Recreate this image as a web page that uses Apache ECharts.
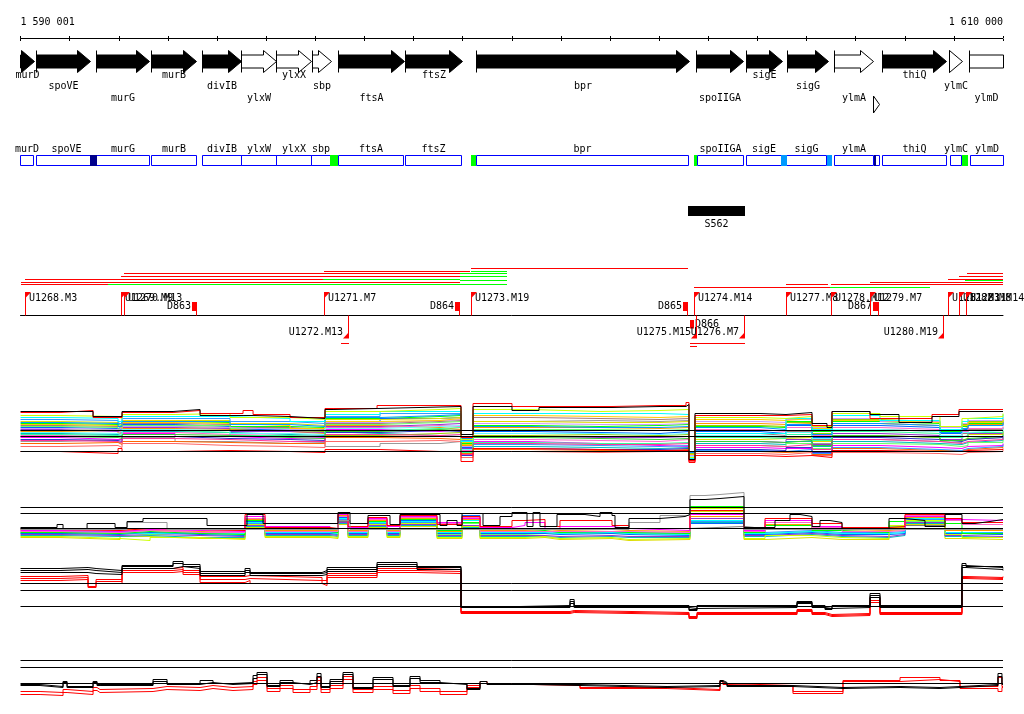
<!DOCTYPE html>
<html><head><meta charset="utf-8">
<script src="https://cdn.jsdelivr.net/npm/echarts@6/dist/echarts.min.js"></script>
<style>html,body{margin:0;padding:0;background:#fff}#c{width:1024px;height:714px}</style>
</head><body><div id="c"></div>
<script>
// ---------------- DATA ----------------
const viewStart = 1590001, viewEnd = 1610000;
const axisMin = 1590000, axisMax = 1610000, tickStep = 1000;

// genes: name, start, end, filled(1)/open(0), row
const genes = [
  ['murD', 1589000, 1590276, 1, 0],
  ['spoVE', 1590317, 1591430, 1, 0],
  ['murG', 1591544, 1592631, 1, 0],
  ['murB', 1592657, 1593588, 1, 0],
  ['divIB', 1593702, 1594495, 1, 0],
  ['ylxW', 1594495, 1595202, 0, 0],
  ['ylxX', 1595208, 1595928, 0, 0],
  ['sbp', 1595941, 1596321, 0, 0],
  ['ftsA', 1596464, 1597807, 1, 0],
  ['ftsZ', 1597834, 1598988, 1, 0],
  ['bpr', 1599279, 1603614, 1, 0],
  ['spoIIGA', 1603765, 1604714, 1, 0],
  ['sigE', 1604769, 1605507, 1, 0],
  ['sigG', 1605617, 1606438, 1, 0],
  ['ylmA', 1606560, 1607374, 0, 0],
  ['', 1607374, 1607496, 0, 1],
  ['thiQ', 1607557, 1608853, 1, 0],
  ['ylmC', 1608921, 1609179, 0, 0],
  ['ylmD', 1609328, 1610400, 0, 0]
];

// second track boxes: name, start, end
const geneBoxes = [
  ['murD', 1590001, 1590270], ['spoVE', 1590317, 1591552], ['murG', 1591552, 1592631],
  ['murB', 1592657, 1593588], ['divIB', 1593702, 1594495], ['ylxW', 1594495, 1595202],
  ['ylxX', 1595208, 1595928], ['sbp', 1595928, 1596301], ['ftsA', 1596470, 1597801],
  ['ftsZ', 1597827, 1598981], ['bpr', 1599279, 1603594], ['spoIIGA', 1603777, 1604721],
  ['sigE', 1604775, 1605487], ['sigG', 1605603, 1606417], ['ylmA', 1606560, 1607368],
  ['', 1607389, 1607490], ['thiQ', 1607557, 1608860], ['ylmC', 1608927, 1609165],
  ['ylmD', 1609330, 1610000]
];
// filled regions: start, end, kind
const boxFills = [
  [1591422, 1591552, 'dark'], [1596301, 1596470, 'green'], [1599171, 1599266, 'green'],
  [1603710, 1603777, 'green'], [1605487, 1605603, 'light'], [1606417, 1606519, 'light'],
  [1607368, 1607403, 'dark'], [1609165, 1609287, 'green']
];

const features = [['S562', 1603588, 1604748]];

// segments: start, end, lane, kind
const segments = [
  [1599171, 1603588, 0, 'red'],
  [1596179, 1599151, 1, 'red'], [1599171, 1599904, 1, 'green'],
  [1592108, 1598947, 2, 'red'], [1598947, 1599904, 2, 'green'], [1609267, 1610000, 2, 'red'],
  [1592053, 1598947, 3, 'red'], [1598947, 1599904, 3, 'green'], [1609098, 1610000, 3, 'red'],
  [1590093, 1596165, 4, 'red'], [1596165, 1598947, 4, 'green'], [1608874, 1610000, 4, 'red'],
  [1598947, 1599904, 4.5, 'green'], [1609226, 1610000, 4.5, 'green'],
  [1590001, 1598947, 5, 'red'], [1607287, 1610000, 5, 'red'],
  [1590001, 1591776, 6, 'red'], [1591776, 1599904, 6, 'green'], [1605583, 1606438, 6, 'red'], [1606499, 1610000, 6, 'red'],
  [1603710, 1606485, 7, 'red'], [1606485, 1608520, 7, 'green']
];

const upMarkers = [
  [1590107, 'U1268.M3'], [1592053, 'U1269.M9'], [1592108, 'U1270.M13'], [1596179, 'U1271.M7'],
  [1599171, 'U1273.M19'], [1603710, 'U1274.M14'], [1605589, 'U1277.M8'], [1606499, 'U1278.M12'],
  [1607307, 'U1279.M7'], [1608895, 'U1281.M11'], [1609118, 'U1282.M8'], [1609261, 'U1283.M14']
];
const downMarkers = [
  [1596673, 'U1272.M13', 1596525, 0], [1603751, 'U1275.M15', 1603635, 1],
  [1604734, 'U1276.M7', 1603635, 0], [1608793, 'U1280.M19', null, 0]
];
const deletions = [
  [1593498, 1593588, 'D863', 1], [1598851, 1598953, 'D864', 1], [1603486, 1603582, 'D865', 1],
  [1603635, 1603710, 'D866', -1], [1607354, 1607470, 'D867', 1]
];

// ---- panel A ----
const knotsA = [1590001,1590805,1591986,1592067,1593146,1594265,1595487,1596199,1597319,1598540,1598967,1599212,1600372,1601797,1603018,1603608,1603730,1605054,1605583,1606112,1606519,1607496,1608717,1609165,1609287,1610000];
const refsA = [0, 15.3, 21.3];
const knotsATop = [1590001,1590805,1591477,1592067,1593105,1593655,1594530,1594734,1595487,1596199,1596362,1597258,1598967,1599212,1600005,1600555,1602041,1603018,1603547,1603608,1603730,1605054,1605583,1606112,1606417,1606519,1607293,1607883,1608555,1609104,1610000];
const aBlack1 = [40,40,35,40,42,36,36,35,33,42,43,45,17,45,41,44,45,45,47,-8,38,37,39,28,24,40,37,29,35,40,40];
const aRed1 = [39,41,34,39,41,38,41,37,34,43,43,46,14,48,45,45,46,46,49,-9,36,36,37,26,26,40,33,33,37,42,42];
const aYgreen = [36,35,33,37,38,34,32,40,42,43,12,42,40,41,42,-6,34,33,35,25,38,35,25,33,35,38];
const aCyan = [34,33,30,35,35,33,30,37,40,40,10,38,38,38,37,-7,18,18,33,22,36,31,22,30,33,37];
const aGray = [10,12,9,14,10,8,9,5,8,10,6,30,31,30,31,-5,15,14,14,8,12,10,9,12,14,12];
const aMagenta = [14,12,12,18,15,13,14,22,20,22,5,10,8,6,5,-10,4,3,3,18,6,4,3,5,6,8];
const aGreen = [28,27,26,30,29,25,24,33,35,36,8,26,25,26,27,-4,25,24,30,20,30,28,20,25,28,31];
const aBlue = [24,23,22,27,25,22,20,30,33,34,4,20,19,18,20,-3,20,18,26,14,26,24,18,22,26,29];
const aOrange = [20,21,18,23,22,20,18,26,24,22,6,24,24,23,24,-2,28,27,28,22,28,26,22,24,27,30];
const aBrown = [26,25,23,28,27,24,22,28,30,31,10,34,33,32,33,-2,18,16,20,12,22,20,15,18,22,24];
const aPurple = [22,20,19,24,23,20,19,25,27,28,3,15,14,14,15,-8,10,9,12,7,18,16,12,15,18,20];
const aYellow = [30,29,27,31,31,28,26,32,33,34,7,30,29,29,30,-6,12,13,14,10,16,14,11,13,17,20];
const aRed2 = [0,-2,3,0,1,0,-1,2,0,0,-10,3,2,1,1,-11,-4,-5,-4,-6,1,0,0,1,2,3];
const aTeal = [18,17,16,20,19,17,16,18,16,15,2,5,4,3,4,-6,8,7,10,5,10,8,7,9,11,14];
const aPink = [16,15,14,19,17,16,15,24,26,25,1,12,11,10,12,-7,22,20,24,16,24,22,16,20,23,25];
const aLime = [25,24,21,26,26,23,21,27,29,30,9,22,22,21,22,-3,6,5,8,3,8,7,5,6,9,12];
const aDorange = [8,9,7,10,9,8,8,14,13,12,-2,2,1,1,2,-9,0,-1,0,-3,3,1,1,2,4,5];
const aSky = [32,31,28,33,33,30,28,35,38,38,11,7,6,5,6,-4,1,0,2,-2,4,2,1,3,5,7];
const aOlive = [21,22,20,25,24,21,20,16,18,19,0,16,17,16,17,-2,26,25,29,18,32,30,24,27,30,33];
const aNavy = [12,11,10,15,13,12,11,19,21,20,-4,3,2,2,3,-8,2,1,4,-1,14,12,10,12,14,16];
const aSalmon = [5,6,4,8,6,5,4,10,11,10,-6,0,-1,0,0,-10,-2,-3,-1,-4,-1,-2,-3,-1,0,2];
const aMint = [17,16,15,21,19,16,15,21,23,24,-1,9,8,8,9,-5,14,13,17,11,20,18,14,16,19,21];
const aLav = [23,22,20,25,24,22,21,29,31,32,5,28,27,27,28,-4,30,29,32,24,33,30,24,28,31,34];
const aGold = [27,26,24,29,28,26,23,30,31,33,9,36,35,34,35,-3,32,31,33,23,31,29,21,26,29,32];
const aAqua = [19,18,17,22,21,18,17,23,25,26,2,18,18,17,18,-5,16,15,19,13,22,20,16,19,21,23];
const aRose = [11,10,9,13,12,10,10,17,16,17,-3,8,7,7,8,-7,6,5,7,2,12,10,8,10,12,14];
const aGreen2 = [15,14,13,17,16,14,13,20,22,21,0,14,13,12,13,-6,10,9,11,6,16,14,11,13,15,18];
const aBlue2 = [29,28,25,30,30,27,25,34,36,37,13,25,24,24,25,-1,24,22,27,17,28,26,19,23,26,29];

// ---- panel B ----
const knotsB = [1590001,1590805,1592026,1592637,1593655,1594571,1594978,1596301,1596464,1596667,1597074,1597461,1597726,1598479,1598988,1599354,1600005,1600270,1600677,1600982,1602041,1602387,1603628,1604728,1605156,1606112,1606723,1607680,1608005,1608819,1609165,1610000];
const refsB = [0, 15.4, 21.4];
const bMagenta = [-2,-3,-1,-2,-3,12,2,-1,14,1,10,2,12,6,10,1,3,6,-1,2,0,-2,14,-2,8,2,-1,0,12,9,8,8];
const bRed = [-1,-2,0,-1,-2,14,1,0,15,2,11,3,13,4,12,2,8,9,2,8,3,0,18,0,10,5,1,2,14,10,6,6];
const bGreen = [-4,-5,-3,-5,-6,8,-3,-4,12,-3,7,-2,9,-2,6,-3,-3,-2,-4,-3,-4,-5,22,-4,3,-2,-4,7,11,5,-5,-5];
const bYgreen = [-8,-10,-12,-9,-11,4,-8,-9,8,-8,4,-8,5,-9,2,-9,-9,-8,-10,-9,-11,-10,20,-10,-7,-9,-10,3,8,-6,-9,-9];
const bCyan = [-3,-4,-5,-4,-5,6,-4,-5,10,-4,6,-4,7,-4,8,-4,-4,-4,-5,-4,-5,-6,8,-5,-3,-5,-5,-4,10,-4,-5,-5];
const bBlue = [-5,-6,-4,-6,-7,7,-5,-6,11,-5,8,-5,8,-5,13,-5,-5,-5,-6,-5,-6,-7,5,-6,-4,-6,-6,-5,12,-5,-6,-6];
const bOrange = [-2,-1,-2,-3,-2,9,-2,-2,13,-2,8,-2,10,-3,9,-2,-2,-1,-2,-1,-2,-3,12,-2,4,-1,-2,-1,11,-2,-2,-2];
const bPurple = [-6,-7,-6,-7,-8,3,-6,-7,6,-6,3,-6,4,-7,3,-7,-7,-7,-8,-7,-8,-8,10,-7,-5,-7,-8,-6,6,-7,-8,-8];
const bPink = [-3,-4,-2,-4,-4,10,-3,-3,12,-3,9,-3,11,5,11,-3,-3,-3,-3,-3,-3,-4,15,-3,6,1,-3,-2,13,8,4,4];
const bTeal = [-7,-8,-7,-9,-9,2,-7,-8,5,-7,2,-7,3,-8,1,-8,-8,-8,-9,-8,-9,-9,6,-8,-6,-8,-9,-7,5,-8,-9,-9];
const bYellow = [-9,-11,-8,-10,-10,1,-9,-10,4,-9,1,-9,2,-10,0,-10,-10,-9,-11,-10,-12,-11,17,-11,-9,-11,-11,1,4,-10,-11,-11];
const bDgray = [0,0,0,0,0,3,0,0,7,0,5,0,4,0,2,0,0,0,0,0,0,0,2,0,0,0,0,0,3,0,0,0];
const bSky = [-4,-3,-4,-5,-4,5,-4,-4,9,-4,5,-4,6,-5,10,-4,-4,-3,-4,-4,-4,-5,7,-4,-2,-4,-4,-3,9,-4,-4,-4];
const bLime = [-5,-4,-6,-4,-5,4,-5,-5,8,-5,4,-5,6,-6,5,-6,-6,-5,-5,-5,-5,-6,14,-5,-3,-5,-5,2,7,-5,-6,-6];
const knotsBGray = [1590001,1592169,1592983,1596464,1596708,1602387,1603018,1603628,1603934,1604239,1604728,1610000];
const bGray = [-1,6,-1,8,-1,6,13,33,34,36,-1,-1];
const knotsBBlack = [1590001,1590744,1590866,1591355,1591925,1592169,1592494,1593797,1594611,1594937,1596464,1596708,1597074,1597522,1597726,1598540,1598682,1598886,1598988,1599415,1599761,1600005,1600311,1600433,1600575,1600921,1601491,1601797,1602041,1602102,1602387,1603018,1603527,1603628,1603934,1604239,1604728,1605359,1605664,1605868,1606112,1606275,1606479,1606723,1607680,1608005,1608412,1608819,1609165,1609430,1609735,1610000];
const bBlack = [1,4,0,5,1,7,10,3,14,5,16,5,13,4,14,3,8,3,15,3,12,16,2,16,2,14,12,16,13,1,10,12,14,29,30,32,1,8,14,12,2,8,6,0,10,8,2,14,5,7,9,9];

// ---- panel C ----
const knotsC = [1590001,1590805,1591375,1591538,1592067,1593105,1593309,1593655,1594571,1594673,1596138,1596240,1597258,1598072,1598967,1600168,1601186,1601270,1603608,1603771,1605807,1606112,1606377,1606519,1607293,1607496,1609165,1609247,1610000];
const refsC = [0, 16, 23];
const cBlack1 = [38,39,38,36,41,45,42,35,38,34,36,39,44,40,0,1,7,1,-3,1,5,1,-2,1,13,1,43,40,40];
const cBlack2 = [36,37,36,34,40,43,40,33,36,33,34,37,42,39,-1,0,5,0,-4,0,4,0,-3,0,11,0,41,39,38];
const cBlack3 = [34,34,33,32,38,40,38,31,34,31,32,35,40,37,-1,-1,3,-1,-2,-1,3,-1,-2,-1,9,-1,39,37,36];
const cRed1 = [30,31,23,27,38,39,36,30,31,29,26,33,38,37,-5,-5,-4,-6,-10,-6,-3,-6,-8,-7,9,-6,30,29,30];
const cRed2 = [28,29,20,25,36,37,34,27,28,26,23,31,36,35,-6,-6,-5,-7,-11,-7,-4,-7,-9,-8,6,-7,29,28,28];
const cRed3 = [26,27,19,23,34,35,32,24,26,23,21,29,34,33,-7,-7,-6,-8,-12,-8,-5,-8,-10,-9,4,-8,28,27,27];

// ---- panel D ----
const knotsD = [1590001,1590398,1590866,1590948,1591477,1591558,1591619,1592698,1592983,1593655,1593919,1594326,1594734,1594815,1595019,1595283,1595548,1595894,1596036,1596118,1596301,1596565,1596769,1597176,1597583,1597929,1598133,1598540,1599089,1599354,1599497,1601389,1603161,1604239,1604300,1604382,1605725,1606743,1607904,1608717,1609125,1609898,1609979,1610000];
const refsD = [0, 16.3, 23.3];
const dBlack1 = [-1,-3,2,-3,2,-1,-1,4,0,3,0,1,8,11,-2,3,0,3,10,-3,4,11,-4,6,-2,7,3,0,-5,2,-1,-3,-2,3,1,-2,-4,-3,-4,-3,-1,10,0,0];
const dBlack2 = [-2,-4,1,-4,1,-2,-2,2,-1,1,-1,0,5,9,-3,1,-1,1,7,-4,2,9,-5,4,-3,5,1,-1,-6,0,-2,-4,-3,2,0,-3,-5,-4,-5,-4,-2,7,-1,-1];
const dRed1 = [-8,-9,-6,-8,-4,-6,-5,-3,-4,-2,-4,-3,2,6,-5,-2,-6,-3,6,-6,-2,7,-6,-3,-7,-2,-5,-8,-2,2,-1,-4,-6,3,0,-2,-8,3,6,3,-3,6,-3,-3];
const dRed2 = [-11,-12,-9,-11,-7,-9,-8,-6,-7,-5,-7,-6,-1,3,-8,-5,-9,-6,3,-9,-5,4,-9,-6,-10,-5,-8,-11,-4,0,-2,-5,-7,2,-1,-3,-10,2,4,2,-5,-8,-4,-4];

// ---------------- RENDER ----------------
const FF = '"DejaVu Sans Mono", monospace';
const FONT = '10px ' + FF;
const RED = '#ff0000', GREEN = '#00ff00';
const fillColors = {dark: '#00008c', green: '#00ff00', light: '#0099ff'};
const segColors = {red: RED, green: GREEN};
function snap(v) { return Math.round(v - 0.5) + 0.5; }
function fmt(n) { return String(n).replace(/\B(?=(\d{3})+(?!\d))/g, ' '); }
function txt(text, x, y, align) {
  return {type: 'text', style: {text: text, x: x, y: y, fill: '#000', font: FONT, align: align || 'center', verticalAlign: 'middle'}};
}

let lab = 0;
const geneRows = genes.map(g => g[0] ? (lab++ % 3) : -1);

function renderGene(params, api) {
  const g = genes[params.dataIndex];
  const s = g[1], e = g[2], filled = g[3], lane = g[4];
  const p0 = api.coord([Math.max(s, viewStart), lane]);
  const p1 = api.coord([Math.min(e, viewEnd), lane]);
  const x0 = snap(p0[0]), x1 = snap(p1[0]), yc = p0[1];
  const HH = lane ? 8.5 : 11, BH = 6.5, HL = 13;
  const style = {fill: filled ? '#000' : '#fff', stroke: '#000', lineWidth: 1};
  const ch = [];
  if (e > viewEnd) {
    ch.push({type: 'rect', shape: {x: x0, y: yc - BH, width: x1 - x0, height: 2 * BH}, style: style});
  } else {
    const hs = Math.max(x0, x1 - HL);
    const pts = (hs - x0 < 1) ? [[x0, yc - HH], [x1, yc], [x0, yc + HH]]
      : [[x0, yc - BH], [hs, yc - BH], [hs, yc - HH], [x1, yc], [hs, yc + HH], [hs, yc + BH], [x0, yc + BH]];
    ch.push({type: 'polygon', shape: {points: pts}, style: style});
  }
  if (s >= viewStart) ch.push({type: 'line', shape: {x1: x0, y1: yc - HH, x2: x0, y2: yc + HH}, style: {stroke: '#000', lineWidth: 1}});
  if (g[0]) ch.push(txt(g[0], (x0 + x1) / 2, yc + 14 + geneRows[params.dataIndex] * 11.3));
  return {type: 'group', children: ch};
}

function renderBox(params, api) {
  const b = geneBoxes[params.dataIndex];
  const p0 = api.coord([Math.max(b[1], viewStart), 0]), p1 = api.coord([Math.min(b[2], viewEnd), 0]);
  const x0 = snap(p0[0]), x1 = snap(p1[0]), yc = p0[1];
  const ch = [{type: 'rect', shape: {x: x0, y: yc - 5, width: x1 - x0, height: 10}, style: {fill: 'none', stroke: '#0000ff', lineWidth: 1}}];
  if (b[0]) ch.push(txt(b[0], (x0 + x1) / 2, yc - 11));
  return {type: 'group', children: ch};
}
function renderFill(params, api) {
  const f = boxFills[params.dataIndex];
  const p0 = api.coord([f[0], 0]), p1 = api.coord([f[1], 0]);
  const x0 = Math.round(p0[0]), x1 = Math.max(Math.round(p1[0]), x0 + 2), yc = p0[1];
  return {type: 'rect', shape: {x: x0, y: yc - 5.5, width: x1 - x0, height: 11}, style: {fill: fillColors[f[2]]}};
}
function renderFeature(params, api) {
  const f = features[params.dataIndex];
  const p0 = api.coord([f[1], 0]), p1 = api.coord([f[2], 0]);
  const x0 = Math.round(p0[0]), x1 = Math.round(p1[0]), yc = p0[1];
  return {type: 'group', children: [
    {type: 'rect', shape: {x: x0, y: yc - 5, width: x1 - x0, height: 10}, style: {fill: '#000'}},
    txt(f[0], (x0 + x1) / 2, yc + 13.5)
  ]};
}
function renderSeg(params, api) {
  const s = segments[params.dataIndex];
  const p0 = api.coord([s[0], s[2]]), p1 = api.coord([s[1], s[2]]);
  const y = snap(p0[1]);
  return {type: 'line', shape: {x1: Math.round(p0[0]), y1: y, x2: Math.round(p1[0]), y2: y}, style: {stroke: segColors[s[3]], lineWidth: 1}};
}
function renderUp(params, api) {
  const m = upMarkers[params.dataIndex];
  const p = api.coord([m[0], 0]);
  const x = snap(p[0]), yb = p[1], top = yb - 23;
  return {type: 'group', children: [
    {type: 'line', shape: {x1: x, y1: yb, x2: x, y2: top}, style: {stroke: RED, lineWidth: 1}},
    {type: 'polygon', shape: {points: [[x - 0.5, top - 0.5], [x + 5.5, top - 0.5], [x - 0.5, top + 6]]}, style: {fill: RED}},
    txt(m[1], x + 3.5, top + 6, 'left')
  ]};
}
function renderDown(params, api) {
  const m = downMarkers[params.dataIndex];
  const p = api.coord([m[0], 0]);
  const x = snap(p[0]), yb = p[1], bot = yb + 22.5;
  const ch = [
    {type: 'line', shape: {x1: x, y1: yb, x2: x, y2: bot}, style: {stroke: RED, lineWidth: 1}},
    {type: 'polygon', shape: {points: [[x + 0.5, bot + 0.5], [x - 5.5, bot + 0.5], [x + 0.5, bot - 6]]}, style: {fill: RED}},
    txt(m[1], x - 5.5, bot - 5.5, 'right')
  ];
  if (m[2] != null) {
    const ps = api.coord([m[2], 0]);
    const y = snap(bot + 5.3 + m[3] * 2.7);
    ch.push({type: 'line', shape: {x1: Math.round(ps[0]), y1: y, x2: x + 0.5, y2: y}, style: {stroke: RED, lineWidth: 1}});
  }
  return {type: 'group', children: ch};
}
function renderDel(params, api) {
  const d = deletions[params.dataIndex];
  const p0 = api.coord([d[0], 0]), p1 = api.coord([d[1], 0]);
  const x0 = Math.round(p0[0]), x1 = Math.max(Math.round(p1[0]), x0 + 4), yb = p0[1];
  if (d[3] > 0) {
    return {type: 'group', children: [
      {type: 'rect', shape: {x: x0, y: yb - 13.5, width: x1 - x0, height: 9}, style: {fill: RED}},
      {type: 'line', shape: {x1: x1 - 0.5, y1: yb - 4.5, x2: x1 - 0.5, y2: yb}, style: {stroke: RED, lineWidth: 1}},
      txt(d[2], x0 - 1, yb - 9.5, 'right')
    ]};
  }
  return {type: 'group', children: [
    {type: 'rect', shape: {x: x0, y: yb + 4.5, width: x1 - x0, height: 8.5}, style: {fill: RED}},
    txt(d[2], x1 + 1, yb + 9, 'left')
  ]};
}

const gridDefs = [
  {top: 38, height: 1}, {top: 61.5, height: 43}, {top: 160.5, height: 1}, {top: 211, height: 1},
  {top: 268.5, height: 19}, {top: 314.5, height: 1}, {top: 396.5, height: 75}, {top: 488.5, height: 55},
  {top: 556.5, height: 65}, {top: 653.5, height: 45}
];
const yRanges = [[0, 1, false], [0, 1, true], [0, 1, true], [0, 1, true], [0, 7, true], [0, 1, false],
  [-20, 55, false], [-15, 40, false], [-15, 50, false], [-15, 30, false]];

const grid = gridDefs.map(g => Object.assign({left: 20.5, width: 982.5, containLabel: false, outerBoundsMode: 'none', show: false}, g));
const xAxis = gridDefs.map((g, i) => ({type: 'value', gridIndex: i, min: axisMin, max: axisMax, show: false, splitLine: {show: false}}));
xAxis[0] = {
  type: 'value', gridIndex: 0, position: 'top', min: axisMin, max: axisMax, interval: tickStep,
  axisLine: {show: true, onZero: false, lineStyle: {color: '#000', width: 1}},
  axisTick: {show: true, length: 2, lineStyle: {color: '#000'}},
  splitLine: {show: false},
  axisLabel: {show: true, interval: 0, showMinLabel: true, showMaxLabel: true, alignMinLabel: 'left', alignMaxLabel: 'right',
    margin: 11, color: '#000', fontFamily: FF, fontSize: 10,
    formatter: v => v === axisMin ? fmt(viewStart) : (v === axisMax ? fmt(viewEnd) : '')}
};
xAxis[5] = {type: 'value', gridIndex: 5, position: 'bottom', min: axisMin, max: axisMax,
  axisLine: {show: true, onZero: false, lineStyle: {color: '#000', width: 1}}, axisTick: {show: false}, axisLabel: {show: false}, splitLine: {show: false}};
xAxis.push({type: 'value', gridIndex: 0, position: 'bottom', min: axisMin, max: axisMax, interval: tickStep,
  axisLine: {show: false, onZero: false}, axisTick: {show: true, length: 2, lineStyle: {color: '#000'}}, axisLabel: {show: false}, splitLine: {show: false}});
const yAxis = yRanges.map((r, i) => ({type: 'value', gridIndex: i, min: r[0], max: r[1], inverse: r[2], show: false, splitLine: {show: false}}));

const series = [];
function custom(idx, arr, fn, yv) {
  series.push({type: 'custom', xAxisIndex: idx, yAxisIndex: idx, renderItem: fn, silent: true, animation: false, clip: false,
    data: arr.map(() => [axisMin, yv || 0])});
}
custom(1, genes, renderGene);
custom(2, geneBoxes, renderBox);
custom(2, boxFills, renderFill);
custom(3, features, renderFeature);
custom(4, segments, renderSeg);
custom(5, deletions, renderDel);
custom(5, downMarkers, renderDown);
custom(5, upMarkers, renderUp);

function line(idx, knots, vals, color, refs) {
  const s = {type: 'line', xAxisIndex: idx, yAxisIndex: idx, step: 'end', symbol: 'none', showSymbol: false,
    silent: true, animation: false, lineStyle: {color: color, width: 1}, itemStyle: {color: color},
    data: knots.map((k, i) => [k, vals[i]])};
  if (refs) s.markLine = {silent: true, symbol: ['none', 'none'], label: {show: false}, animation: false,
    lineStyle: {color: '#000', width: 1, type: 'solid'}, data: refs.map(v => ({yAxis: v}))};
  series.push(s);
}
[[aGray, '#999999'], [aMagenta, '#ff00ff'], [aGreen, '#00ff00'], [aBlue, '#0066ff'], [aOrange, '#ff9900'],
 [aBrown, '#aa7777'], [aPurple, '#9933cc'], [aYellow, '#dddd00'], [aTeal, '#00bbbb'], [aPink, '#ff66cc'],
 [aLime, '#66ff66'], [aDorange, '#ff6600'], [aSky, '#3399ff'], [aOlive, '#99cc00'], [aNavy, '#3333cc'],
 [aSalmon, '#ff6666'], [aMint, '#33ff99'], [aLav, '#cc99ff'], [aGold, '#ffcc00'], [aAqua, '#66ffff'],
 [aRose, '#ff3399'], [aGreen2, '#33cc33'], [aBlue2, '#0099ff'],
 [aCyan, '#00ffff'], [aYgreen, '#ccff00'], [aRed2, RED]]
  .forEach(p => line(6, knotsA, p[0], p[1]));
line(6, knotsATop, aRed1, RED);
line(6, knotsATop, aBlack1, '#000000', refsA);

[[bDgray, '#777777'], [bYellow, '#dddd00'], [bTeal, '#00bbbb'], [bPurple, '#9933cc'], [bLime, '#66ff66'],
 [bSky, '#3399ff'], [bBlue, '#0066ff'], [bCyan, '#00ffff'], [bYgreen, '#ccff00'], [bGreen, '#00ff00'],
 [bOrange, '#ff9900'], [bPink, '#ff66cc'], [bMagenta, '#ff00ff'], [bRed, RED]]
  .forEach(p => line(7, knotsB, p[0], p[1]));
line(7, knotsBGray, bGray, '#999999');
line(7, knotsBBlack, bBlack, '#000000', refsB);

line(8, knotsC, cRed3, RED); line(8, knotsC, cRed2, RED); line(8, knotsC, cRed1, RED);
line(8, knotsC, cBlack3, '#000000'); line(8, knotsC, cBlack2, '#000000'); line(8, knotsC, cBlack1, '#000000', refsC);

line(9, knotsD, dRed2, RED); line(9, knotsD, dRed1, RED);
line(9, knotsD, dBlack2, '#000000'); line(9, knotsD, dBlack1, '#000000', refsD);

const chart = echarts.init(document.getElementById('c'), null, {renderer: 'canvas'});
chart.setOption({animation: false, backgroundColor: '#ffffff', grid: grid, xAxis: xAxis, yAxis: yAxis, series: series});
</script></body></html>
